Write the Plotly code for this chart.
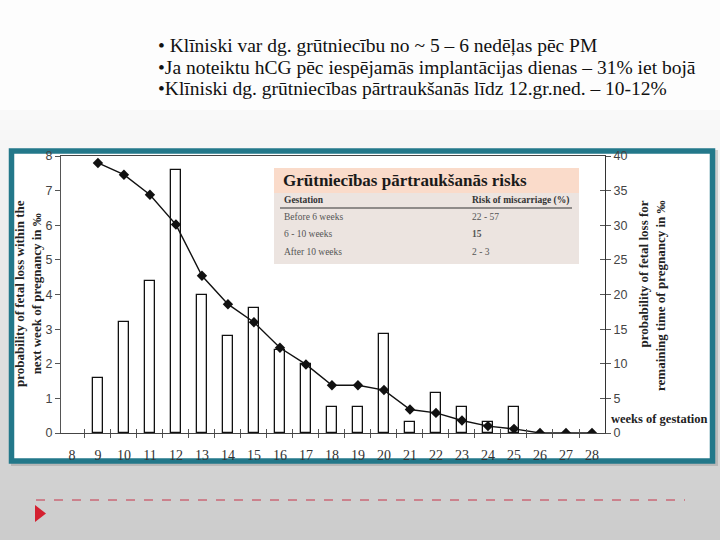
import plotly.graph_objects as go

# ---------------- data ----------------
weeks = list(range(8, 29))
week_labels = [str(w) for w in weeks]
# probability of fetal loss within the next week (per mille), bars
loss_next_week = [None, 1.6, 3.2, 4.4, 7.6, 4.0, 2.8, 3.6, 2.4, 2.0, 0.75, 0.75,
                  2.85, 0.33, 1.15, 0.75, 0.33, 0.75, None, None, None]
# probability of fetal loss for remaining time of pregnancy (per mille), line
line_weeks = list(range(9, 29))
loss_remaining = [39.0, 37.3, 34.4, 30.1, 22.7, 18.6, 16.0, 12.3, 9.9, 6.9, 6.9,
                  6.2, 3.4, 2.9, 1.8, 1.0, 0.6, 0.0, 0.0, 0.0]

bullet_lines = [
    "• Klīniski var dg. grūtniecību no ~ 5 – 6 nedēļas pēc PM",
    "•Ja noteiktu hCG pēc iespējamās implantācijas dienas – 31% iet bojā",
    "•Klīniski dg. grūtniecības pārtraukšanās līdz 12.gr.ned. – 10-12%",
]
table_title = "Grūtniecības pārtraukšanās risks"
table_head = ["Gestation", "Risk of miscarriage (%)"]
table_gestation = ["Before 6 weeks", "6 - 10 weeks", "After 10 weeks"]
table_risk = ["22 - 57", "<b>15</b>", "2 - 3"]

W, H = 720, 540
def px(x):
    return x / W
def py(y):
    return 1 - y / H

SERIF = "Liberation Serif"
SANS = "Liberation Sans"

fig = go.Figure()

fig.add_trace(go.Bar(
    x=weeks, y=loss_next_week, width=0.4,
    marker=dict(color="white", line=dict(color="#111", width=1.3)),
    xaxis="x", yaxis="y", showlegend=False, hoverinfo="skip",
))
fig.add_trace(go.Scatter(
    x=line_weeks, y=loss_remaining, mode="lines+markers",
    line=dict(color="#111", width=1.4),
    marker=dict(symbol="diamond", size=8, color="#111"),
    xaxis="x", yaxis="y2", showlegend=False,
))
# helper (invisible) trace so the crossing-tick overlay axes are drawn
fig.add_trace(go.Scatter(x=[None], y=[None], xaxis="x2", yaxis="y3",
                         showlegend=False, hoverinfo="skip"))

shapes = []
# background gradient (slide)
n = 54
for i in range(n):
    y0 = i * H / n
    y1 = (i + 1) * H / n
    t = (y0 + y1) / 2
    if t < 110:
        v = 253
    else:
        v = int(round(250 - (t - 110) / (H - 110) * 47))
    c = f"rgb({v},{v},{v})"
    shapes.append(dict(type="rect", xref="paper", yref="paper",
                       x0=0, x1=1, y0=py(min(y1 + 2, H)), y1=py(y0),
                       fillcolor=c, line=dict(width=0), layer="below"))
# frame shadow
shapes.append(dict(type="rect", xref="paper", yref="paper",
                   x0=px(11), x1=px(718), y0=py(466), y1=py(150),
                   fillcolor="rgba(120,120,120,0.30)", line=dict(width=0), layer="below"))
# teal frame
shapes.append(dict(type="rect", xref="paper", yref="paper",
                   x0=px(11.5), x1=px(712.5), y0=py(461), y1=py(151),
                   fillcolor="white", line=dict(color="#23788a", width=5.5), layer="below"))
# table box
shapes.append(dict(type="rect", xref="paper", yref="paper",
                   x0=px(274), x1=px(579), y0=py(264), y1=py(168),
                   fillcolor="#ece4e0", line=dict(width=0), layer="above"))
shapes.append(dict(type="rect", xref="paper", yref="paper",
                   x0=px(274), x1=px(579), y0=py(193), y1=py(168),
                   fillcolor="#fadbca", line=dict(width=0), layer="above"))
shapes.append(dict(type="line", xref="paper", yref="paper",
                   x0=px(280), x1=px(572), y0=py(208), y1=py(208),
                   line=dict(color="#333", width=1), layer="above"))
# red dashed line & triangle (slide decoration)
shapes.append(dict(type="line", xref="paper", yref="paper",
                   x0=px(36), x1=px(685), y0=py(500), y1=py(500),
                   line=dict(color="#c8354a", width=1, dash="dash"), layer="above"))
shapes.append(dict(type="path", xref="paper", yref="paper",
                   path=f"M {px(35)} {py(505)} L {px(46)} {py(513.5)} L {px(35)} {py(522)} Z",
                   fillcolor="#d42030", line=dict(width=0), layer="above"))

annotations = []
for txt, yc in zip(bullet_lines, [46, 67.5, 89]):
    annotations.append(dict(text=txt, xref="paper", yref="paper", x=px(156), y=py(yc),
                            xanchor="left", yanchor="middle", showarrow=False,
                            font=dict(family=SERIF, size=19.5, color="#111")))
annotations.append(dict(text="<b>" + table_title + "</b>", xref="paper", yref="paper",
                        x=px(281), y=py(180.5),
                        xanchor="left", yanchor="middle", showarrow=False,
                        font=dict(family=SERIF, size=17, color="#1a1a1a")))
annotations.append(dict(text="<b>" + table_head[0] + "</b>", xref="paper", yref="paper",
                        x=px(282), y=py(200), xanchor="left", yanchor="middle", showarrow=False,
                        font=dict(family=SERIF, size=9.5, color="#333")))
annotations.append(dict(text="<b>" + table_head[1] + "</b>", xref="paper", yref="paper",
                        x=px(470), y=py(200), xanchor="left", yanchor="middle", showarrow=False,
                        font=dict(family=SERIF, size=9.5, color="#333")))
for g, r, yc in zip(table_gestation, table_risk, [217, 234, 252]):
    annotations.append(dict(text=g, xref="paper", yref="paper", x=px(282), y=py(yc),
                            xanchor="left", yanchor="middle", showarrow=False,
                            font=dict(family=SERIF, size=9.5, color="#555")))
    annotations.append(dict(text=r, xref="paper", yref="paper", x=px(470), y=py(yc),
                            xanchor="left", yanchor="middle", showarrow=False,
                            font=dict(family=SERIF, size=9.5, color="#555")))
# axis titles
annotations.append(dict(text="<b>probability of fetal loss within the<br>next week of pregnancy in ‰</b>",
                        xref="paper", yref="paper", x=px(28), y=py(294), textangle=-90,
                        xanchor="center", yanchor="middle", showarrow=False, align="center",
                        font=dict(family=SERIF, size=13, color="#222")))
annotations.append(dict(text="<b>probability of fetal loss for<br>remaining time of pregnancy in ‰</b>",
                        xref="paper", yref="paper", x=px(652), y=py(296), textangle=-90,
                        xanchor="center", yanchor="middle", showarrow=False, align="right",
                        font=dict(family=SERIF, size=13, color="#222")))
annotations.append(dict(text="<b>weeks of gestation</b>", xref="paper", yref="paper",
                        x=px(609), y=py(419), xanchor="left", yanchor="middle", showarrow=False,
                        font=dict(family=SERIF, size=12.5, color="#222")))

dom_x = [px(61), px(605)]
dom_y = [py(433), py(156)]
boundaries = [w + 0.5 for w in weeks[:-1]]

fig.update_layout(
    width=W, height=H,
    margin=dict(l=0, r=0, t=0, b=0, pad=0, autoexpand=False),
    paper_bgcolor="white", plot_bgcolor="white",
    shapes=shapes, annotations=annotations,
    bargap=0,
    hovermode=False,
    xaxis=dict(domain=dom_x, range=[7.58, 28.5], tickmode="array", tickvals=weeks,
               ticktext=week_labels, ticks="outside", ticklen=9, tickcolor="rgba(0,0,0,0)",
               tickfont=dict(family=SERIF, size=14, color="#333"),
               showline=True, linecolor="#444", linewidth=1.2, mirror=True,
               showgrid=False, zeroline=False, anchor="y", automargin=False,
               minor=dict(tickvals=boundaries, ticks="outside",
                          ticklen=4, tickcolor="#555", tickwidth=1)),
    xaxis2=dict(domain=dom_x, range=[7.58, 28.5], overlaying="x", anchor="y3", side="bottom",
                tickmode="array", tickvals=boundaries, ticks="inside", ticklen=4,
                tickcolor="#555", showticklabels=False, showline=False, showgrid=False,
                zeroline=False, automargin=False),
    yaxis=dict(domain=dom_y, range=[0, 8], dtick=1, tick0=0, ticks="outside", ticklen=5,
               tickcolor="#555", tickfont=dict(family=SANS, size=12.5, color="#444"),
               showline=True, linecolor="#555", linewidth=1.2, showgrid=False, zeroline=False,
               anchor="x", automargin=False),
    yaxis2=dict(domain=dom_y, range=[0, 40], dtick=5, tick0=0, ticks="outside", ticklen=5,
                tickcolor="#555", tickfont=dict(family=SANS, size=12.5, color="#444"),
                showline=True, linecolor="#333", linewidth=1.2, showgrid=False, zeroline=False,
                overlaying="y", side="right", anchor="x", automargin=False),
    yaxis3=dict(domain=dom_y, range=[0, 40], dtick=5, tick0=0, ticks="inside", ticklen=5,
                tickcolor="#555", showticklabels=False, showline=False, showgrid=False,
                zeroline=False, overlaying="y", side="right", anchor="x2", automargin=False),
)

fig.write_html("out.html", config={"displayModeBar": False},
               post_script="document.body.style.margin='0';document.body.style.overflow='hidden';")
